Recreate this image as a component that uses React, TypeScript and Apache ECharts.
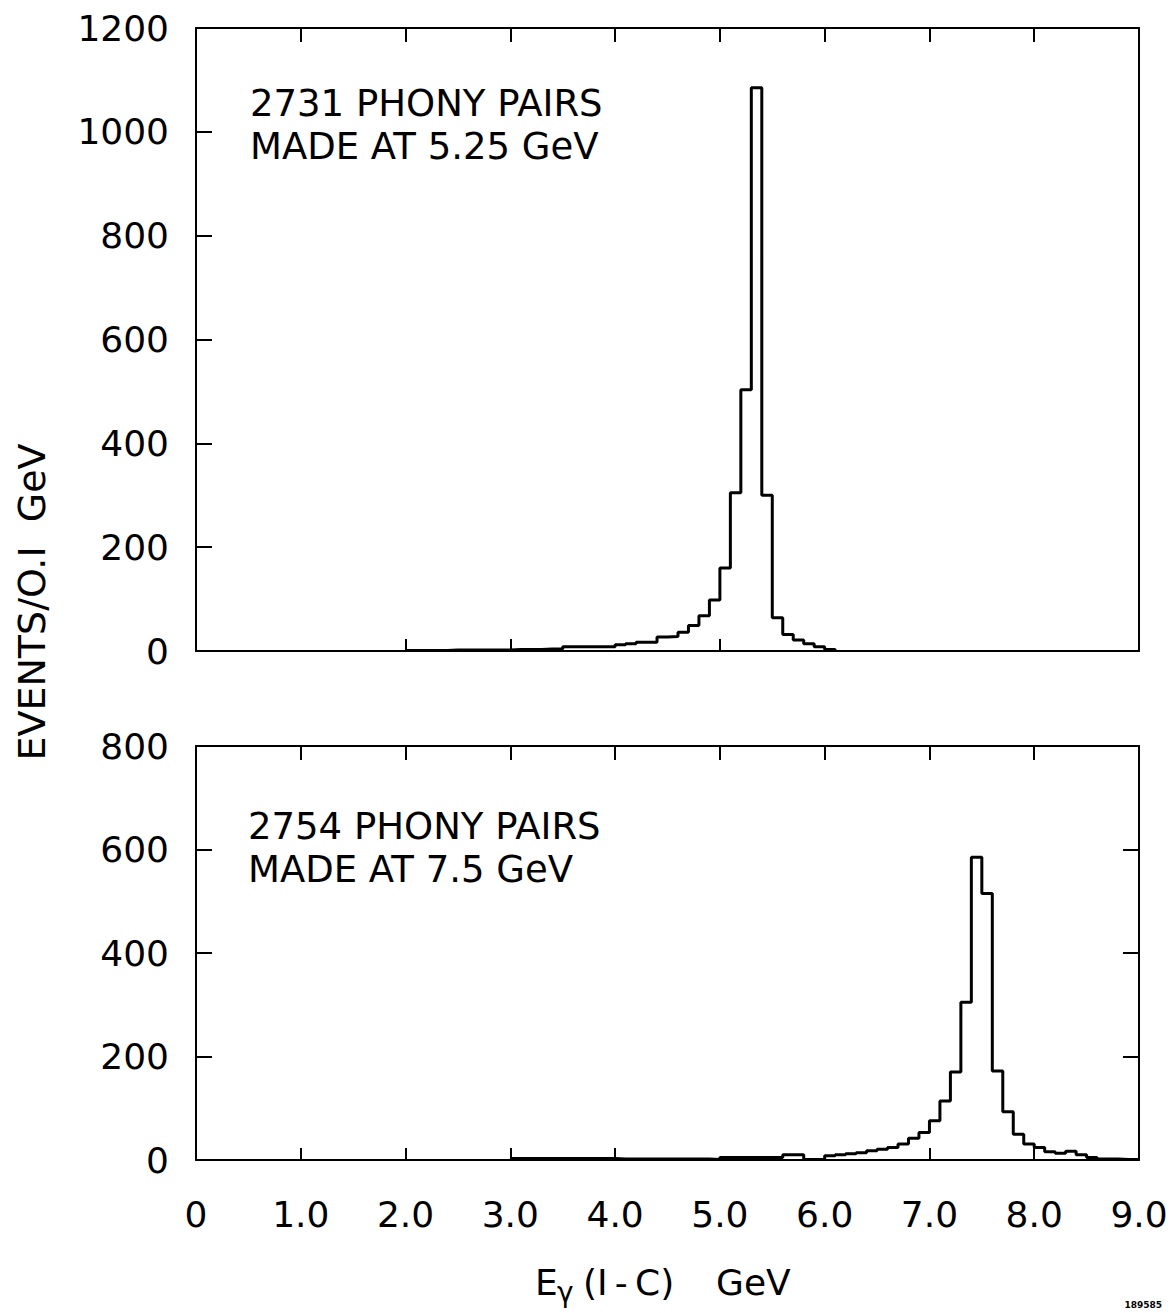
import React, { useEffect, useRef } from "react";
import * as echarts from "echarts";

// ---- data ----
const binWidth = 0.1;
const topStart = 2.0;
const topCounts = [
  1, 1, 1, 1, 2, 2, 2, 2, 2, 2, // 2.0-2.9
  3, 3, 3, 4, 4, 8, 8, 8, 8, 8, // 3.0-3.9
  12, 14, 17, 17, 27, 28, 36, 49, 68, 98, // 4.0-4.9
  160, 305, 503, 1085, 300, 64, 32, 21, 14, 8, // 5.0-5.9
  3, // 6.0
];
const bottomStart = 3.0;
const bottomCounts = [
  3, 3, 3, 3, 3, 3, 3, 3, 3, 3, // 3.0-3.9
  2, 2, 2, 2, 2, 2, 2, 2, 2, 1, // 4.0-4.9
  5, 5, 5, 5, 5, 5, 10, 10, 1, 1, // 5.0-5.9
  8, 10, 12, 14, 18, 21, 24, 31, 42, 53, // 6.0-6.9
  76, 114, 170, 305, 585, 515, 172, 93, 50, 31, // 7.0-7.9
  24, 16, 13, 17, 10, 5, 2, 2, 1, 1, // 8.0-8.9
];
const xTickLabels = ["0", "1.0", "2.0", "3.0", "4.0", "5.0", "6.0", "7.0", "8.0", "9.0"];
const topYTicks = ["0", "200", "400", "600", "800", "1000", "1200"];
const bottomYTicks = ["0", "200", "400", "600", "800"];
const topNote = ["2731 PHONY PAIRS", "MADE AT 5.25 GeV"];
const bottomNote = ["2754 PHONY PAIRS", "MADE AT 7.5 GeV"];
// tick marks visible along the lower edges in the original drawing
const topPanelBottomTicks = [2, 3, 5];
const bottomPanelBottomTicks = [1, 2, 3, 4, 7, 8];
const allInnerXTicks = [1, 2, 3, 4, 5, 6, 7, 8];

const FONT = "DejaVu Sans";

function histPoints(start: number, counts: number[]) {
  const pts: number[][] = counts.map((v, i) => [+(start + i * binWidth).toFixed(2), v]);
  pts.push([+(start + counts.length * binWidth).toFixed(2), 0]);
  return pts;
}

const axisLineStyle = { color: "#000", width: 2 };

function xAx(grid: number, pos: "top" | "bottom", labels: boolean, tickLen: number, tickVals: number[]) {
  return {
    gridIndex: grid,
    type: "value",
    position: pos,
    min: 0,
    max: 9,
    interval: 1,
    axisLine: { show: true, onZero: false, lineStyle: axisLineStyle },
    axisTick: {
      show: true,
      inside: true,
      length: tickLen,
      customValues: tickVals,
      lineStyle: { color: "#000", width: 2 },
    },
    axisLabel: {
      show: labels,
      margin: 36,
      fontFamily: FONT,
      fontSize: 36,
      color: "#000",
      formatter: (v: number) => xTickLabels[Math.round(v)] ?? "",
    },
    splitLine: { show: false },
  };
}

function yAx(grid: number, pos: "left" | "right", max: number, labels: string[] | null, ticks: boolean) {
  return {
    gridIndex: grid,
    type: "value",
    position: pos,
    min: 0,
    max,
    interval: 200,
    axisLine: { show: true, onZero: false, lineStyle: axisLineStyle },
    axisTick: { show: ticks, inside: true, length: 16, lineStyle: { color: "#000", width: 2 } },
    axisLabel: {
      show: !!labels,
      margin: 27,
      fontFamily: FONT,
      fontSize: 36,
      color: "#000",
      formatter: (v: number) => (labels ? labels[Math.round(v / 200)] ?? "" : ""),
    },
    splitLine: { show: false },
  };
}

function noteTexts(lines: string[], x: number, y0: number, dy: number) {
  return lines.map((t, i) => ({
    type: "text",
    x,
    y: y0 + i * dy,
    style: { text: t, fontFamily: FONT, fontSize: 37, fill: "#000", align: "left", verticalAlign: "middle" },
  }));
}

export default function App() {
  const ref = useRef<HTMLDivElement>(null);
  useEffect(() => {
    if (!ref.current) return;
    const chart = echarts.init(ref.current, null, { renderer: "svg" });
    const option = {
      animation: false,
      backgroundColor: "#fff",
      grid: [
        { left: 196, top: 28, width: 943, height: 623 },
        { left: 196, top: 746, width: 943, height: 414 },
      ],
      xAxis: [
        xAx(0, "bottom", false, 12, topPanelBottomTicks),
        xAx(0, "top", false, 14, allInnerXTicks),
        xAx(1, "bottom", true, 12, bottomPanelBottomTicks),
        xAx(1, "top", false, 14, allInnerXTicks),
      ],
      yAxis: [
        yAx(0, "left", 1200, topYTicks, true),
        yAx(0, "right", 1200, null, false),
        yAx(1, "left", 800, bottomYTicks, true),
        yAx(1, "right", 800, null, true),
      ],
      series: [
        {
          type: "line",
          xAxisIndex: 0,
          yAxisIndex: 0,
          step: "end",
          symbol: "none",
          data: histPoints(topStart, topCounts),
          lineStyle: { color: "#000", width: 3 },
        },
        {
          type: "line",
          xAxisIndex: 2,
          yAxisIndex: 2,
          step: "end",
          symbol: "none",
          data: histPoints(bottomStart, bottomCounts),
          lineStyle: { color: "#000", width: 3 },
        },
      ],
      graphic: [
        ...noteTexts(topNote, 250, 103, 43),
        ...noteTexts(bottomNote, 248, 826, 43),
        {
          type: "text",
          x: 32,
          y: 602,
          rotation: Math.PI / 2,
          style: {
            text: "EVENTS/O.I  GeV",
            fontFamily: FONT,
            fontSize: 38,
            fill: "#000",
            align: "center",
            verticalAlign: "middle",
          },
        },
        {
          type: "text",
          x: 535,
          y: 1282,
          style: { text: "E", fontFamily: FONT, fontSize: 36, fill: "#000", align: "left", verticalAlign: "middle" },
        },
        {
          type: "text",
          x: 557,
          y: 1292,
          style: { text: "γ", fontFamily: FONT, fontSize: 28, fill: "#000", align: "left", verticalAlign: "middle" },
        },
        {
          type: "text",
          x: 583,
          y: 1282,
          style: {
            text: "(I\u2009-\u2009C)",
            fontFamily: FONT,
            fontSize: 36,
            fill: "#000",
            align: "left",
            verticalAlign: "middle",
          },
        },
        {
          type: "text",
          x: 716,
          y: 1282,
          style: { text: "GeV", fontFamily: FONT, fontSize: 36, fill: "#000", align: "left", verticalAlign: "middle" },
        },
        {
          type: "text",
          x: 1162,
          y: 1305,
          style: { text: "189585", fontFamily: FONT, fontSize: 9, fontWeight: "bold", fill: "#000", align: "right", verticalAlign: "middle" },
        },
      ],
    };
    chart.setOption(option as any);
    return () => chart.dispose();
  }, []);
  return (
    <div
      ref={ref}
      style={{ position: "fixed", left: 0, top: 0, width: 1175, height: 1313, background: "#fff" }}
    />
  );
}
